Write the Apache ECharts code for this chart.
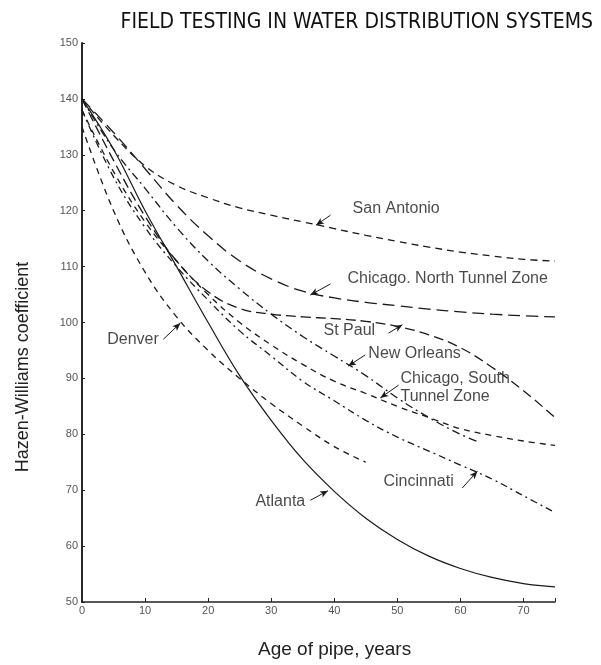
<!DOCTYPE html>
<html>
<head>
<meta charset="utf-8">
<script src="https://cdn.jsdelivr.net/npm/echarts@6/dist/echarts.min.js"></script>
<style>
html, body { margin: 0; padding: 0; background: #fff; }
#chart { width: 601px; height: 665px; }
</style>
</head>
<body>
<div id="chart"></div>
<script>
// age of pipe, years
var ages = [0, 5, 10, 15, 20, 25, 30, 35, 40, 45, 50, 55, 60, 65, 70, 75];
var newOrleansAges = [0, 5, 10, 15, 20, 25, 30, 35, 40, 45, 50, 55, 60, 63];
var xTicks = [0, 10, 20, 30, 40, 50, 60, 70];
var yTicks = [50, 60, 70, 80, 90, 100, 110, 120, 130, 140, 150];

// Hazen-Williams coefficient
var sanAntonio = [140, 133.5, 128, 124.5, 122.3, 120.5, 119.2, 118, 116.8, 115.6, 114.5, 113.5, 112.6, 111.9, 111.3, 111];
var chicagoNorth = [140, 134, 127.5, 121, 115.5, 111, 107.8, 105.6, 104.4, 103.6, 103, 102.4, 101.9, 101.5, 101.2, 101];
var stPaul = [140, 129, 119, 111, 105.5, 102.5, 101.5, 101, 100.7, 100.2, 99.3, 97.8, 95.5, 92, 87.8, 83];
var newOrleans = [140, 131, 124, 117, 111, 106, 101.5, 97.5, 94, 90.5, 86.5, 83, 80, 78.6];
var chicagoSouth = [138, 127, 118, 111, 105, 100, 96, 92.5, 89.5, 87.3, 85, 83, 81, 79.8, 78.8, 78];
var cincinnati = [138, 126, 117, 110, 104, 98.5, 94, 89.5, 86, 82.5, 79.5, 77, 74.5, 72, 69, 66];
var denver = [135, 120, 109, 101, 95, 90, 85.5, 81.5, 77.8, 75];
var atlanta = [140, 131, 120, 110, 100, 90.5, 82.5, 75.5, 69.8, 65, 61.2, 58.2, 56, 54.4, 53.3, 52.7];

// label anchor [age, C] and leader arrow [from, to]
var labelNames = ['San Antonio', 'Chicago. North Tunnel Zone', 'St Paul', 'New Orleans', 'Chicago, South\nTunnel Zone', 'Cincinnati', 'Atlanta', 'Denver'];
var labelPos = [[42.9, 120.3], [42.1, 107.8], [38.3, 98.5], [45.4, 94.5], [50.5, 88.3], [47.8, 71.5], [27.5, 67.9], [4, 96.9]];
var leaders = [
  [[39.4, 119.2], [37.1, 117.4]],
  [[39.4, 106.9], [36.2, 104.9]],
  [[48.6, 98.1], [50.8, 99.6]],
  [[44.9, 94.2], [42.2, 92.2]],
  [[50.2, 88.8], [47.3, 86.5]],
  [[60.3, 70.4], [62.7, 73.4]],
  [[36.2, 68.2], [39.0, 69.9]],
  [[12.9, 97.0], [15.6, 99.9]]
];

function pairs(xs, ys) {
  return ys.map(function (v, i) { return [xs[i], v]; });
}

function curve(name, xs, ys, dash, width) {
  return {
    name: name,
    type: 'line',
    smooth: 0.4,
    symbol: 'none',
    data: pairs(xs, ys),
    lineStyle: { color: '#1a1a1a', width: width || 1.3, type: dash },
    z: 2
  };
}

var chart = echarts.init(document.getElementById('chart'));

var series = [
  curve('San Antonio', ages, sanAntonio, [7, 5]),
  curve('Chicago North', ages, chicagoNorth, [12, 6]),
  curve('St Paul', ages, stPaul, [10, 5]),
  curve('New Orleans', newOrleansAges, newOrleans, [8, 4, 2, 4]),
  curve('Chicago South', ages, chicagoSouth, [6, 5]),
  curve('Cincinnati', ages, cincinnati, [7, 4, 2, 4]),
  curve('Denver', ages, denver, [6, 5]),
  curve('Atlanta', ages, atlanta, 'solid', 1.2)
];

series.push({
  type: 'line',
  data: [],
  markLine: {
    silent: true,
    animation: false,
    symbol: ['none', 'arrow'],
    symbolSize: [5, 8],
    label: { show: false },
    lineStyle: { color: '#1a1a1a', width: 1, type: 'solid' },
    data: leaders.map(function (l) {
      return [{ coord: l[0] }, { coord: l[1] }];
    })
  }
});

series.push({
  type: 'scatter',
  symbolSize: 0,
  silent: true,
  data: labelNames.map(function (n, i) {
    return { name: n, value: labelPos[i] };
  }),
  label: {
    show: true,
    position: 'right',
    distance: 0,
    formatter: '{b}',
    color: '#1a1a1a',
    fontFamily: 'Liberation Sans',
    fontSize: 16,
    lineHeight: 18
  }
});

var option = {
  animation: false,
  backgroundColor: '#fff',
  title: {
    text: 'FIELD TESTING IN WATER DISTRIBUTION SYSTEMS',
    right: 3,
    top: 7,
    textStyle: {
      fontFamily: 'DejaVu Sans Condensed',
      fontWeight: 'normal',
      fontSize: 21,
      color: '#111'
    }
  },
  grid: { left: 82, top: 43, width: 473, height: 559 },
  xAxis: {
    type: 'value',
    min: 0,
    max: 75,
    interval: 10,
    axisLine: { lineStyle: { color: '#222', width: 1.5 } },
    axisTick: { inside: true, length: 4, lineStyle: { color: '#222' } },
    splitLine: { show: false },
    axisLabel: {
      color: '#555',
      fontSize: 11,
      margin: 3,
      formatter: function (v) { return xTicks.indexOf(v) >= 0 ? String(v) : ''; }
    }
  },
  yAxis: {
    type: 'value',
    min: 50,
    max: 150,
    interval: 10,
    axisLine: { show: true, lineStyle: { color: '#111', width: 1.8 } },
    axisTick: { show: true, inside: true, length: 3, lineStyle: { color: '#222' } },
    splitLine: { show: false },
    axisLabel: {
      color: '#555',
      fontSize: 11,
      margin: 4,
      formatter: function (v) { return yTicks.indexOf(v) >= 0 ? String(v) : ''; }
    }
  },
  graphic: [
    {
      type: 'text',
      left: 258,
      top: 640,
      style: { text: 'Age of pipe, years', fontFamily: 'Liberation Sans', fontSize: 19, fill: '#222' }
    },
    {
      type: 'text',
      x: 23,
      y: 367,
      rotation: Math.PI / 2,
      style: {
        text: 'Hazen-Williams coefficient',
        fontFamily: 'Liberation Sans',
        fontSize: 18,
        fill: '#222',
        align: 'center',
        verticalAlign: 'middle'
      }
    }
  ],
  series: series
};

chart.setOption(option);
</script>
</body>
</html>
